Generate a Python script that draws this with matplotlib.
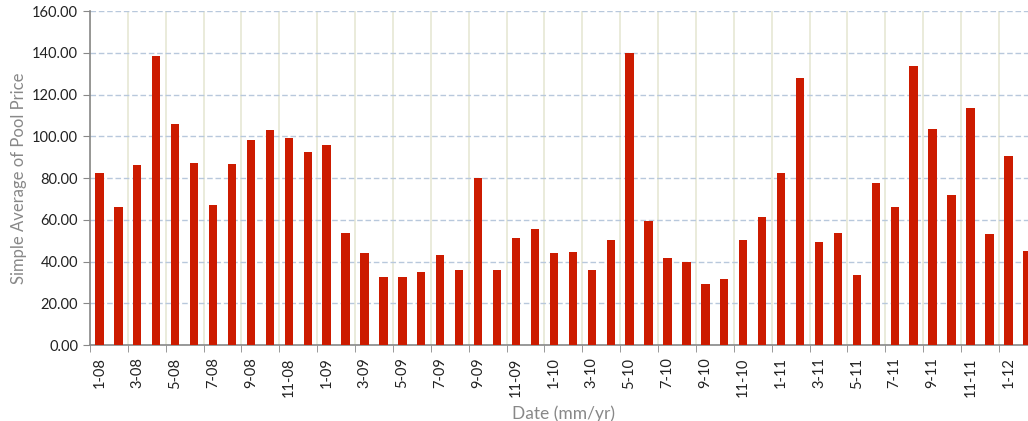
import matplotlib.pyplot as plt
import numpy as np

plt.rcParams['font.family'] = ['Lato', 'DejaVu Sans']

months = [f"{m}-{y:02d}" for y in range(8, 13) for m in range(1, 13)][:50]
prices = [82.5, 66, 86, 138.5, 106, 87, 67, 86.5, 98, 103, 99, 92.5,
          96, 53.5, 44, 32.5, 32.5, 35, 43, 36, 80, 36, 51.5, 55.5,
          44, 44.5, 36, 50.5, 140, 59.5, 41.5, 40, 29, 31.5, 50.5, 61.5,
          82.5, 128, 49.5, 53.5, 33.5, 77.5, 66, 133.5, 103.5, 72, 113.5, 53,
          90.5, 45]
y_ticks = np.arange(0, 161, 20)

fig = plt.figure(figsize=(10.28, 4.21), dpi=100)
ax = fig.add_axes([0.0875, 0.1805, 0.921, 0.7933])

x = np.arange(len(prices))
ax.bar(x, prices, width=0.44, color='#CC1B00', zorder=3)

ax.set_xlim(-0.5, len(prices) - 0.5)
ax.set_ylim(0, 160)
ax.set_yticks(y_ticks)
ax.set_yticklabels([f"{v:.2f}" for v in y_ticks], fontsize=10.5, color='#222222')

# labels under every other bar, tick marks on category boundaries
ax.set_xticks(x[::2])
ax.set_xticklabels(months[::2], rotation=90, fontsize=10.5, color='#222222')
ax.tick_params(axis='x', which='major', length=0, pad=9)
ax.set_xticks(np.arange(-0.5, len(prices), 2), minor=True)
ax.tick_params(axis='x', which='minor', length=5, color='#888888')
ax.tick_params(axis='y', length=5, color='#888888')

ax.grid(axis='y', color='#B8C8DC', linestyle=(0, (4, 2)), linewidth=1, zorder=0)
ax.grid(axis='x', which='minor', color='#E6E8D4', linestyle='-', linewidth=1.2, zorder=0)

for s in ['top', 'right']:
    ax.spines[s].set_visible(False)
for s in ['left', 'bottom']:
    ax.spines[s].set_color('#888888')
    ax.spines[s].set_linewidth(1.2)

ax.set_ylabel("Simple Average of Pool Price", fontsize=12, color='#888888')
ax.set_xlabel("Date (mm/yr)", fontsize=12.5, color='#888888', labelpad=6)

fig.savefig("out.png", dpi=100)
